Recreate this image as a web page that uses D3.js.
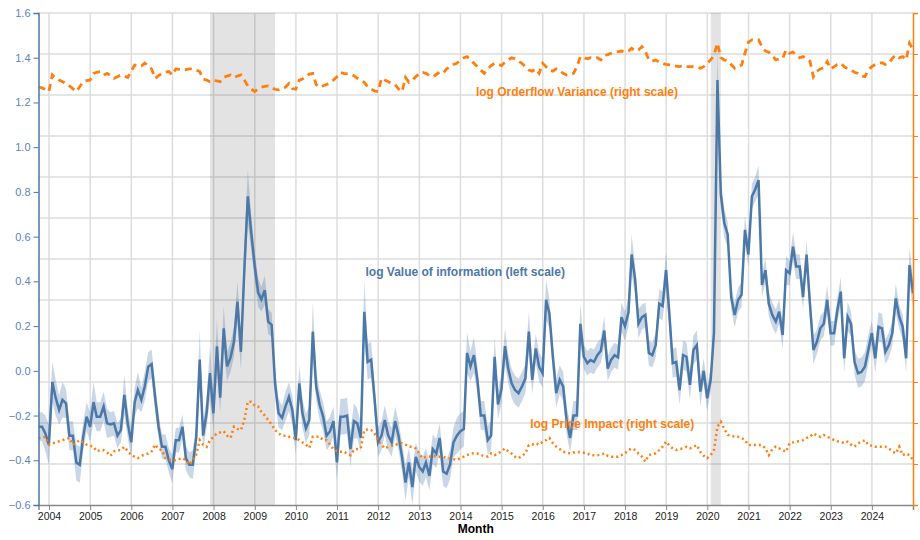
<!DOCTYPE html>
<html>
<head>
<meta charset="utf-8">
<script src="https://cdn.jsdelivr.net/npm/d3@7"></script>
<style>
  html, body { margin: 0; padding: 0; background: #fff; }
  svg { display: block; font-family: "Liberation Sans", Arial, Helvetica, sans-serif; }
</style>
</head>
<body>
<svg id="chart" width="920" height="540"></svg>
<script>
// ---------------- DATA (monthly, month-end dates, Sep 2003 .. Dec 2024) ----------------
const firstMonth = { year: 2003, month: 9 };   // September 2003

// log Value of information (left scale), one row per calendar year
const valueOfInfo = [
  [-0.25, -0.25, -0.28, -0.33],
  [-0.05, -0.12, -0.175, -0.13, -0.145, -0.29, -0.29, -0.41, -0.42, -0.295, -0.205, -0.25],
  [-0.14, -0.205, -0.205, -0.16, -0.235, -0.24, -0.235, -0.29, -0.265, -0.108, -0.235, -0.32],
  [-0.14, -0.086, -0.13, -0.07, 0.018, 0.03, -0.116, -0.25, -0.34, -0.34, -0.40, -0.44],
  [-0.31, -0.31, -0.25, -0.39, -0.42, -0.42, -0.30, 0.05, -0.29, -0.19, -0.01, -0.19],
  [0.11, -0.12, 0.19, 0.02, 0.06, 0.13, 0.31, 0.085, 0.45, 0.78, 0.62, 0.47],
  [0.35, 0.32, 0.36, 0.22, 0.205, -0.056, -0.19, -0.21, -0.16, -0.116, -0.175, -0.31],
  [-0.056, -0.19, -0.257, -0.22, 0.175, -0.07, -0.153, -0.205, -0.29, -0.27, -0.225, -0.41],
  [-0.205, -0.205, -0.20, -0.35, -0.225, -0.235, -0.30, 0.264, 0.04, 0.05, -0.123, -0.32],
  [-0.29, -0.22, -0.29, -0.32, -0.225, -0.29, -0.385, -0.50, -0.41, -0.52, -0.385, -0.43],
  [-0.45, -0.41, -0.47, -0.35, -0.37, -0.30, -0.45, -0.46, -0.42, -0.32, -0.29, -0.27],
  [-0.26, 0.08, 0.02, 0.07, -0.04, -0.20, -0.20, -0.31, -0.29, 0.063, -0.15, -0.08],
  [0.11, 0.011, -0.056, -0.086, -0.10, -0.071, -0.034, 0.175, -0.041, 0.10, 0.018, -0.011],
  [0.317, 0.257, 0.063, -0.10, -0.04, -0.07, -0.22, -0.30, -0.20, -0.20, 0.21, 0.063],
  [0.034, 0.048, 0.04, 0.07, 0.09, 0.18, 0.01, 0.05, 0.07, 0.06, 0.24, 0.20],
  [0.26, 0.52, 0.41, 0.21, 0.24, 0.25, 0.08, 0.07, 0.115, 0.30, 0.29, 0.45],
  [0.24, 0.034, 0.04, -0.086, 0.07, 0.063, -0.063, 0.093, 0.115, -0.093, 0.0, -0.123],
  [-0.04, 0.168, 1.30, 0.79, 0.66, 0.61, 0.33, 0.25, 0.317, 0.34, 0.63, 0.52],
  [0.78, 0.81, 0.853, 0.384, 0.45, 0.30, 0.25, 0.22, 0.264, 0.16, 0.45, 0.436],
  [0.555, 0.466, 0.466, 0.33, 0.52, 0.30, 0.093, 0.13, 0.19, 0.21, 0.317, 0.168],
  [0.168, 0.27, 0.354, 0.056, 0.242, 0.21, 0.04, -0.011, -0.005, 0.018, 0.093, 0.168],
  [0.056, 0.197, 0.19, 0.085, 0.115, 0.168, 0.324, 0.242, 0.197, 0.056, 0.473, 0.347]
];

// half-width of the confidence band around log Value of information
const valueOfInfoBand = [
  [0.065, 0.065, 0.08, 0.09],
  [0.09, 0.08, 0.065, 0.08, 0.065, 0.065, 0.065, 0.08, 0.08, 0.065, 0.065, 0.065],
  [0.09, 0.065, 0.065, 0.065, 0.065, 0.055, 0.055, 0.055, 0.055, 0.09, 0.065, 0.065],
  [0.065, 0.08, 0.055, 0.065, 0.065, 0.065, 0.065, 0.055, 0.055, 0.055, 0.055, 0.065],
  [0.055, 0.055, 0.055, 0.055, 0.055, 0.065, 0.065, 0.13, 0.065, 0.065, 0.12, 0.065],
  [0.12, 0.065, 0.10, 0.065, 0.065, 0.065, 0.09, 0.08, 0.10, 0.12, 0.08, 0.065],
  [0.065, 0.055, 0.065, 0.055, 0.055, 0.065, 0.065, 0.055, 0.065, 0.065, 0.065, 0.065],
  [0.08, 0.065, 0.065, 0.065, 0.13, 0.065, 0.065, 0.065, 0.065, 0.065, 0.065, 0.08],
  [0.08, 0.08, 0.08, 0.08, 0.08, 0.065, 0.065, 0.14, 0.08, 0.08, 0.065, 0.065],
  [0.065, 0.065, 0.065, 0.065, 0.065, 0.065, 0.065, 0.08, 0.065, 0.08, 0.065, 0.065],
  [0.065, 0.065, 0.065, 0.065, 0.065, 0.065, 0.065, 0.065, 0.065, 0.065, 0.08, 0.08],
  [0.08, 0.09, 0.065, 0.08, 0.065, 0.065, 0.065, 0.065, 0.065, 0.09, 0.065, 0.065],
  [0.08, 0.065, 0.065, 0.065, 0.065, 0.065, 0.065, 0.09, 0.065, 0.065, 0.065, 0.065],
  [0.09, 0.065, 0.065, 0.065, 0.065, 0.065, 0.065, 0.065, 0.065, 0.065, 0.09, 0.055],
  [0.055, 0.055, 0.055, 0.055, 0.055, 0.065, 0.055, 0.055, 0.055, 0.055, 0.065, 0.065],
  [0.065, 0.09, 0.065, 0.065, 0.055, 0.055, 0.055, 0.055, 0.055, 0.065, 0.065, 0.08],
  [0.08, 0.065, 0.065, 0.065, 0.065, 0.065, 0.065, 0.065, 0.065, 0.065, 0.055, 0.055],
  [0.055, 0.065, 0.13, 0.065, 0.065, 0.055, 0.055, 0.055, 0.055, 0.055, 0.065, 0.055],
  [0.055, 0.055, 0.065, 0.055, 0.055, 0.055, 0.055, 0.055, 0.055, 0.065, 0.065, 0.055],
  [0.065, 0.055, 0.055, 0.055, 0.065, 0.065, 0.065, 0.055, 0.055, 0.055, 0.065, 0.055],
  [0.055, 0.055, 0.065, 0.065, 0.065, 0.055, 0.055, 0.065, 0.065, 0.065, 0.065, 0.055],
  [0.065, 0.065, 0.065, 0.055, 0.055, 0.055, 0.065, 0.055, 0.055, 0.065, 0.08, 0.065]
];

// log Orderflow Variance (right scale)
const orderflowVariance = [
  [1.268, 1.265, 1.259, 1.249],
  [1.323, 1.308, 1.30, 1.293, 1.285, 1.274, 1.262, 1.249, 1.27, 1.293, 1.298, 1.30],
  [1.33, 1.335, 1.338, 1.323, 1.33, 1.32, 1.308, 1.315, 1.323, 1.318, 1.312, 1.34],
  [1.367, 1.365, 1.363, 1.376, 1.365, 1.35, 1.308, 1.32, 1.33, 1.335, 1.338, 1.323],
  [1.35, 1.348, 1.347, 1.347, 1.35, 1.35, 1.345, 1.338, 1.305, 1.30, 1.293, 1.30],
  [1.296, 1.293, 1.312, 1.318, 1.323, 1.312, 1.318, 1.323, 1.30, 1.274, 1.26, 1.249],
  [1.26, 1.268, 1.272, 1.274, 1.265, 1.259, 1.256, 1.26, 1.268, 1.285, 1.262, 1.259],
  [1.30, 1.305, 1.315, 1.327, 1.33, 1.28, 1.268, 1.275, 1.28, 1.29, 1.30, 1.315],
  [1.334, 1.33, 1.328, 1.326, 1.32, 1.308, 1.30, 1.29, 1.27, 1.26, 1.252, 1.248],
  [1.308, 1.30, 1.293, 1.285, 1.28, 1.26, 1.248, 1.312, 1.29, 1.30, 1.315, 1.33],
  [1.334, 1.33, 1.32, 1.315, 1.325, 1.335, 1.33, 1.35, 1.36, 1.37, 1.375, 1.39],
  [1.40, 1.405, 1.39, 1.375, 1.36, 1.345, 1.33, 1.35, 1.365, 1.375, 1.37, 1.365],
  [1.38, 1.39, 1.40, 1.395, 1.385, 1.375, 1.36, 1.345, 1.34, 1.35, 1.33, 1.375],
  [1.36, 1.345, 1.34, 1.35, 1.345, 1.33, 1.323, 1.325, 1.33, 1.36, 1.405, 1.40],
  [1.395, 1.40, 1.397, 1.40, 1.39, 1.41, 1.414, 1.42, 1.425, 1.427, 1.43, 1.425],
  [1.43, 1.442, 1.43, 1.435, 1.45, 1.43, 1.39, 1.385, 1.39, 1.38, 1.375, 1.37],
  [1.368, 1.367, 1.362, 1.36, 1.365, 1.36, 1.36, 1.36, 1.358, 1.353, 1.36, 1.375],
  [1.39, 1.412, 1.465, 1.40, 1.39, 1.385, 1.37, 1.353, 1.36, 1.367, 1.42, 1.47],
  [1.48, 1.478, 1.48, 1.45, 1.43, 1.425, 1.41, 1.39, 1.395, 1.397, 1.435, 1.42],
  [1.425, 1.41, 1.40, 1.405, 1.395, 1.385, 1.315, 1.34, 1.35, 1.355, 1.383, 1.35],
  [1.36, 1.37, 1.375, 1.36, 1.35, 1.345, 1.335, 1.33, 1.318, 1.315, 1.345, 1.36],
  [1.37, 1.375, 1.378, 1.37, 1.375, 1.397, 1.412, 1.40, 1.405, 1.39, 1.465, 1.435]
];

// log Price Impact (right scale)
const priceImpact = [
  [-0.30, -0.30, -0.295, -0.33],
  [-0.325, -0.32, -0.315, -0.31, -0.305, -0.30, -0.33, -0.32, -0.31, -0.32, -0.33, -0.335],
  [-0.34, -0.36, -0.355, -0.355, -0.365, -0.38, -0.36, -0.355, -0.355, -0.34, -0.36, -0.375],
  [-0.385, -0.39, -0.38, -0.375, -0.37, -0.36, -0.33, -0.35, -0.355, -0.39, -0.395, -0.40],
  [-0.40, -0.395, -0.39, -0.40, -0.42, -0.40, -0.375, -0.31, -0.33, -0.34, -0.31, -0.295],
  [-0.28, -0.275, -0.27, -0.29, -0.30, -0.25, -0.26, -0.265, -0.22, -0.138, -0.138, -0.155],
  [-0.16, -0.183, -0.20, -0.22, -0.24, -0.265, -0.28, -0.29, -0.29, -0.295, -0.30, -0.30],
  [-0.31, -0.32, -0.33, -0.345, -0.295, -0.295, -0.295, -0.31, -0.31, -0.33, -0.35, -0.36],
  [-0.362, -0.36, -0.37, -0.377, -0.354, -0.35, -0.347, -0.265, -0.262, -0.265, -0.28, -0.31],
  [-0.33, -0.347, -0.34, -0.335, -0.332, -0.325, -0.324, -0.33, -0.339, -0.34, -0.347, -0.37],
  [-0.391, -0.385, -0.384, -0.38, -0.384, -0.384, -0.384, -0.39, -0.391, -0.395, -0.399, -0.39],
  [-0.384, -0.377, -0.37, -0.369, -0.37, -0.377, -0.38, -0.384, -0.369, -0.377, -0.37, -0.36],
  [-0.347, -0.36, -0.37, -0.384, -0.391, -0.38, -0.369, -0.332, -0.33, -0.324, -0.33, -0.317],
  [-0.31, -0.30, -0.324, -0.339, -0.35, -0.362, -0.365, -0.369, -0.365, -0.362, -0.365, -0.366],
  [-0.37, -0.377, -0.377, -0.377, -0.375, -0.369, -0.38, -0.384, -0.384, -0.384, -0.377, -0.369],
  [-0.355, -0.347, -0.354, -0.37, -0.384, -0.406, -0.377, -0.372, -0.369, -0.355, -0.339, -0.317],
  [-0.335, -0.347, -0.354, -0.35, -0.347, -0.34, -0.347, -0.34, -0.332, -0.362, -0.38, -0.391],
  [-0.377, -0.354, -0.25, -0.228, -0.26, -0.287, -0.29, -0.295, -0.295, -0.30, -0.31, -0.332],
  [-0.332, -0.332, -0.332, -0.332, -0.347, -0.377, -0.35, -0.339, -0.347, -0.355, -0.362, -0.324],
  [-0.32, -0.317, -0.315, -0.31, -0.30, -0.295, -0.28, -0.29, -0.295, -0.287, -0.295, -0.302],
  [-0.31, -0.315, -0.317, -0.324, -0.317, -0.33, -0.339, -0.324, -0.317, -0.31, -0.332, -0.335],
  [-0.339, -0.339, -0.339, -0.339, -0.347, -0.36, -0.369, -0.339, -0.377, -0.37, -0.377, -0.399]
];

// NBER recessions shaded in grey
const recessions = [
  { start: "2007-12-01", end: "2009-06-30" },
  { start: "2020-02-01", end: "2020-04-30" }
];

const leftTicks = [-0.6, -0.4, -0.2, 0.0, 0.2, 0.4, 0.6, 0.8, 1.0, 1.2, 1.4, 1.6];
const leftDomain = [-0.6, 1.6];
const rightDomain = [-0.6, 1.6];
const rightTickCount = 12;   // 12 equal intervals, labels not shown

const labels = [
  { text: "log Orderflow Variance (right scale)", date: "2014-05-18", value: 1.229, color: "#ff7f0e" },
  { text: "log Value of information (left scale)", date: "2011-09-11", value: 0.422, color: "#4c78a8" },
  { text: "log Price Impact (right scale)", date: "2015-09-12", value: -0.256, color: "#ff7f0e" }
];

// ---------------- BUILD ----------------
const vi = valueOfInfo.flat();
const viBand = valueOfInfoBand.flat();
const ofv = orderflowVariance.flat();
const pim = priceImpact.flat();
const dates = vi.map((_, i) => new Date(firstMonth.year, firstMonth.month + i, 0)); // month-end
const rows = dates.map((d, i) => ({ date: d, vi: vi[i], lo: vi[i] - viBand[i], hi: vi[i] + viBand[i], ofv: ofv[i], pi: pim[i] }));

const W = 920, H = 540;
const margin = { left: 38.5, right: 7, top: 13, bottom: 35 };
const x0 = margin.left, x1 = W - margin.right, y0 = margin.top, y1 = H - margin.bottom;

const svg = d3.select("#chart");
const parse = d3.timeParse("%Y-%m-%d");

const x = d3.scaleTime().domain(d3.extent(dates)).range([x0, x1]);
const yL = d3.scaleLinear().domain(leftDomain).range([y1, y0]);
const yR = d3.scaleLinear().domain(rightDomain).range([y1, y0]);
const rightTicks = d3.range(rightTickCount + 1).map(i => rightDomain[0] + i * (rightDomain[1] - rightDomain[0]) / rightTickCount);
const yearTicks = d3.timeYear.range(new Date(2004, 0, 1), new Date(2025, 0, 1));

// grid
const grid = svg.append("g");
grid.selectAll("line.h").data(rightTicks.filter(t => t > rightDomain[0])).join("line")
  .attr("x1", x0).attr("x2", x1).attr("y1", d => yR(d)).attr("y2", d => yR(d))
  .attr("stroke", "#dddddd").attr("stroke-width", 1.5);
grid.selectAll("line.v").data(yearTicks).join("line")
  .attr("x1", d => x(d)).attr("x2", d => x(d)).attr("y1", y0).attr("y2", y1)
  .attr("stroke", "#dddddd").attr("stroke-width", 1.5);

// recession shading
svg.append("g").selectAll("rect").data(recessions).join("rect")
  .attr("x", d => x(parse(d.start)))
  .attr("width", d => x(parse(d.end)) - x(parse(d.start)))
  .attr("y", y0).attr("height", y1 - y0)
  .attr("fill", "#000").attr("fill-opacity", 0.11);

// clip
svg.append("clipPath").attr("id", "plot").append("rect")
  .attr("x", x0).attr("y", y0).attr("width", x1 - x0).attr("height", y1 - y0);
const plot = svg.append("g").attr("clip-path", "url(#plot)");

// band
plot.append("path").datum(rows)
  .attr("d", d3.area().x(d => x(d.date)).y0(d => yL(d.lo)).y1(d => yL(d.hi)))
  .attr("fill", "#4c78a8").attr("fill-opacity", 0.3);

// value of information
plot.append("path").datum(rows)
  .attr("d", d3.line().x(d => x(d.date)).y(d => yL(d.vi)))
  .attr("fill", "none").attr("stroke", "#4c78a8").attr("stroke-width", 2.5)
  .attr("stroke-linejoin", "miter");

// orderflow variance (dashed)
plot.append("path").datum(rows)
  .attr("d", d3.line().x(d => x(d.date)).y(d => yR(d.ofv)))
  .attr("fill", "none").attr("stroke", "#ff7f0e").attr("stroke-width", 2.8)
  .attr("stroke-dasharray", "7,5");

// price impact (dotted)
plot.append("path").datum(rows)
  .attr("d", d3.line().x(d => x(d.date)).y(d => yR(d.pi)))
  .attr("fill", "none").attr("stroke", "#ff7f0e").attr("stroke-width", 2.5)
  .attr("stroke-dasharray", "2,3");

// series labels
svg.append("g").selectAll("text").data(labels).join("text")
  .attr("x", d => x(parse(d.date))).attr("y", d => yL(d.value))
  .attr("fill", d => d.color).attr("font-size", 12).attr("font-weight", "bold")
  .text(d => d.text);

// x axis
const xAxis = svg.append("g").attr("transform", `translate(0,${y1})`)
  .call(d3.axisBottom(x).tickValues(yearTicks).tickFormat(d3.timeFormat("%Y")).tickSizeOuter(0).tickSize(5).tickPadding(3));
xAxis.select(".domain").attr("stroke", "#888").attr("stroke-width", 1.5);
xAxis.selectAll(".tick line").attr("stroke", "#888");
xAxis.selectAll(".tick text").attr("fill", "#222").attr("font-size", 10.5).attr("font-family", "Liberation Sans, Arial, sans-serif");
svg.append("text").attr("x", (x0 + x1) / 2).attr("y", H - 7)
  .attr("text-anchor", "middle").attr("font-size", 12).attr("font-weight", "bold").attr("fill", "#000")
  .text("Month");

// left axis
const fmt = d => d3.format(".1f")(d).replace("-", "\u2212");
const lAxis = svg.append("g").attr("transform", `translate(${x0},0)`)
  .call(d3.axisLeft(yL).tickValues(leftTicks).tickFormat(fmt).tickSizeOuter(0).tickSize(5).tickPadding(3));
lAxis.select(".domain").attr("stroke", "#4c78a8").attr("stroke-width", 1.5);
lAxis.selectAll(".tick line").attr("stroke", "#4c78a8");
lAxis.selectAll(".tick text").attr("fill", "#5b84b8").attr("font-size", 11).attr("font-family", "Liberation Sans, Arial, sans-serif");

// right axis (unlabelled ticks)
const rAxis = svg.append("g").attr("transform", `translate(${x1},0)`)
  .call(d3.axisRight(yR).tickValues(rightTicks).tickFormat("").tickSizeOuter(0).tickSize(5));
rAxis.select(".domain").attr("stroke", "#ff7f0e").attr("stroke-width", 1.5);
rAxis.selectAll(".tick line").attr("stroke", "#ff7f0e");
</script>
</body>
</html>
